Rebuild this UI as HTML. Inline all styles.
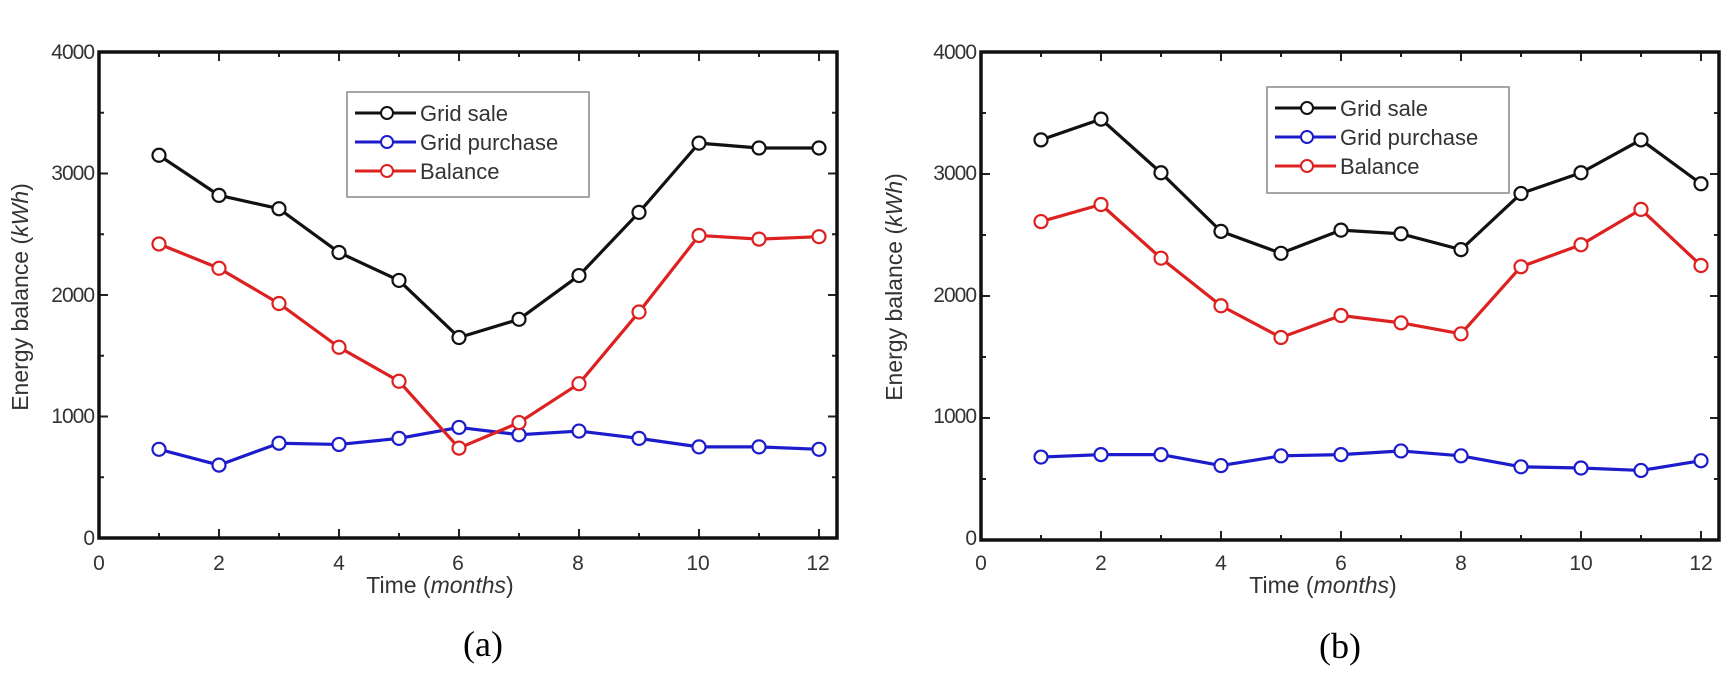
<!DOCTYPE html>
<html><head><meta charset="utf-8"><style>
html,body{margin:0;padding:0;background:#fff;}
svg{display:block;}
.t{font-family:"Liberation Sans",sans-serif;fill:#333;}
</style></head><body>
<svg id="s" width="1729" height="680" viewBox="0 0 1729 680" xmlns="http://www.w3.org/2000/svg">
<rect width="1729" height="680" fill="#fff"/>
<g id="g"></g>
<g class="t" font-size="21" text-anchor="end" style="letter-spacing:-1px">
<text x="94" y="59">4000</text><text x="94" y="180">3000</text><text x="94" y="302">2000</text><text x="94" y="423">1000</text><text x="94" y="545">0</text>
<text x="976" y="59">4000</text><text x="976" y="180">3000</text><text x="976" y="302">2000</text><text x="976" y="423">1000</text><text x="976" y="545">0</text>
</g>
<g class="t" font-size="21" text-anchor="middle">
<text x="99" y="570">0</text><text x="219" y="570">2</text><text x="339" y="570">4</text><text x="458" y="570">6</text><text x="578" y="570">8</text><text x="698" y="570">10</text><text x="818" y="570">12</text>
<text x="981" y="570">0</text><text x="1101" y="570">2</text><text x="1221" y="570">4</text><text x="1341" y="570">6</text><text x="1461" y="570">8</text><text x="1581" y="570">10</text><text x="1701" y="570">12</text>
</g>
<g class="t" font-size="23" text-anchor="middle">
<text x="440" y="593">Time (<tspan font-style="italic">months</tspan>)</text>
<text x="1323" y="593">Time (<tspan font-style="italic">months</tspan>)</text>
<text transform="translate(28,297) rotate(-90)">Energy balance (<tspan font-style="italic">kWh</tspan>)</text>
<text transform="translate(902,287) rotate(-90)">Energy balance (<tspan font-style="italic">kWh</tspan>)</text>
</g>
<g font-family="Liberation Serif,serif" font-size="36" text-anchor="middle" fill="#000">
<text x="483" y="656">(a)</text><text x="1340" y="658">(b)</text>
</g>
<rect x="347" y="92" width="242" height="105" fill="#fff" stroke="#888" stroke-width="1.5"/>
<rect x="1267" y="87" width="242" height="106" fill="#fff" stroke="#888" stroke-width="1.5"/>
<g stroke-width="3" fill="#fff">
<line x1="355" y1="113" x2="416" y2="113" stroke="#111"/><circle cx="387" cy="113" r="6" stroke="#111" stroke-width="2"/>
<line x1="355" y1="142" x2="416" y2="142" stroke="#1c1ccc"/><circle cx="387" cy="142" r="6" stroke="#1c1ccc" stroke-width="2"/>
<line x1="355" y1="171" x2="416" y2="171" stroke="#dd2020"/><circle cx="387" cy="171" r="6" stroke="#dd2020" stroke-width="2"/>
<line x1="1275" y1="108" x2="1336" y2="108" stroke="#111"/><circle cx="1307" cy="108" r="6" stroke="#111" stroke-width="2"/>
<line x1="1275" y1="137" x2="1336" y2="137" stroke="#1c1ccc"/><circle cx="1307" cy="137" r="6" stroke="#1c1ccc" stroke-width="2"/>
<line x1="1275" y1="166" x2="1336" y2="166" stroke="#dd2020"/><circle cx="1307" cy="166" r="6" stroke="#dd2020" stroke-width="2"/>
</g>
<g class="t" font-size="22">
<text x="420" y="121">Grid sale</text><text x="420" y="150">Grid purchase</text><text x="420" y="179">Balance</text>
<text x="1340" y="116">Grid sale</text><text x="1340" y="145">Grid purchase</text><text x="1340" y="174">Balance</text>
</g>
</svg>
<script>
(function(){
var g=document.getElementById('g'),NS='http://www.w3.org/2000/svg';
function el(n,a){var e=document.createElementNS(NS,n);for(var k in a)e.setAttribute(k,a[k]);g.appendChild(e);return e;}
function chart(x0,x1,top,bot,data){
  var mx=60, sy=(bot-top)/4000;
  for(var m=1;m<=12;m++){var x=x0+m*mx,L=(m%2==0)?9:5;
    el('line',{x1:x,y1:bot,x2:x,y2:bot-L,stroke:'#222','stroke-width':2});
    el('line',{x1:x,y1:top,x2:x,y2:top+L,stroke:'#222','stroke-width':2});}
  for(var v=500;v<4000;v+=500){var y=bot-v*sy,L=(v%1000==0)?9:5;
    el('line',{x1:x0,y1:y,x2:x0+L,y2:y,stroke:'#222','stroke-width':2});
    el('line',{x1:x1,y1:y,x2:x1-L,y2:y,stroke:'#222','stroke-width':2});}
  el('rect',{x:x0,y:top,width:x1-x0,height:bot-top,fill:'none',stroke:'#111','stroke-width':3.5});
  data.forEach(function(d){
    var pts=d.v.map(function(v,i){return [x0+(i+1)*mx,bot-v*sy];});
    el('polyline',{points:pts.map(function(p){return p.join(',')}).join(' '),fill:'none',stroke:d.c,'stroke-width':3.2,'stroke-linejoin':'round'});
    pts.forEach(function(p){el('circle',{cx:p[0],cy:p[1],r:6.5,fill:'#fff',stroke:d.c,'stroke-width':2.2});});
  });
}
var K='#111',B='#1c1ccc',R='#dd2020';
chart(99,837,52,538,[
 {c:B,v:[730,600,780,770,820,910,850,880,820,750,750,730]},
 {c:R,v:[2420,2220,1930,1570,1290,740,950,1270,1860,2490,2460,2480]},
 {c:K,v:[3150,2820,2710,2350,2120,1650,1800,2160,2680,3250,3210,3210]}]);
chart(981,1719,52,540,[
 {c:B,v:[680,700,700,610,690,700,730,690,600,590,570,650]},
 {c:R,v:[2610,2750,2310,1920,1660,1840,1780,1690,2240,2420,2710,2250]},
 {c:K,v:[3280,3450,3010,2530,2350,2540,2510,2380,2840,3010,3280,2920]}]);
})();
</script>
</body></html>
